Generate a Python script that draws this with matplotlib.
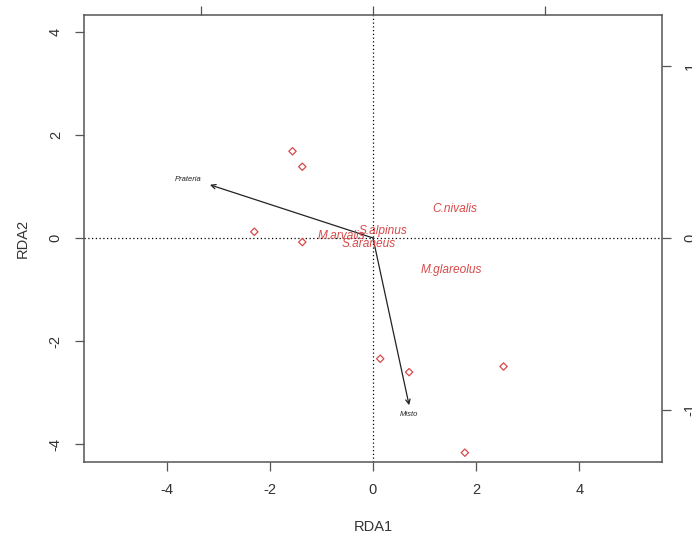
import matplotlib
matplotlib.use("Agg")
import matplotlib.pyplot as plt

plt.rcParams['font.family'] = ['Liberation Sans', 'DejaVu Sans']
plt.rcParams['axes.unicode_minus'] = False

# site scores (RDA1, RDA2)
site_x = [-1.56, -1.37, -2.30, -1.37, 0.14, 0.70, 2.53, 1.78]
site_y = [1.68, 1.38, 0.12, -0.08, -2.34, -2.60, -2.49, -4.16]

# species scores
species = ['C.nivalis', 'S.alpinus', 'M.arvalis', 'S.araneus', 'M.glareolus']
species_x = [1.59, 0.19, -0.62, -0.09, 1.52]
species_y = [0.56, 0.14, 0.03, -0.12, -0.62]

# environmental variables (biplot arrows)
env = ['Prateria', 'Misto']
env_x = [-3.16, 0.70]
env_y = [1.03, -3.24]

red = '#d84a4a'
axcol = '#555555'

fig = plt.figure(figsize=(6.92, 5.36), dpi=100)
ax = fig.add_axes([0.1218, 0.1386, 0.8348, 0.8334])

ax.set_xlim(-5.595, 5.60)
ax.set_ylim(-4.335, 4.32)

ax.axhline(0, color='black', lw=0.9, ls=(0, (1, 2)))
ax.axvline(0, color='black', lw=0.9, ls=(0, (1, 2)))

ax.scatter(site_x, site_y, marker='D', s=14, facecolors='none',
           edgecolors=red, linewidths=0.9, zorder=3)

for name, x, y in zip(species, species_x, species_y):
    ax.text(x, y, name, color=red, fontsize=8.6, style='italic',
            ha='center', va='center', zorder=4)

# arrows from the origin, label just beyond the tip
offsets = [(-16, 4), (0, -7)]
for name, x, y, off in zip(env, env_x, env_y, offsets):
    ax.annotate('', xy=(x, y), xytext=(0, 0),
                arrowprops=dict(arrowstyle='->', color='#222222', lw=0.9,
                                mutation_scale=8, shrinkA=0, shrinkB=0))
    ax.annotate(name, xy=(x, y), xytext=off, textcoords='offset points',
                ha='center', va='center', fontsize=5.5, style='italic',
                color='#222222')

ax.set_xticks([-4, -2, 0, 2, 4])
ax.set_yticks([-4, -2, 0, 2, 4])
ax.tick_params(direction='out', length=6.5, width=0.9, color=axcol,
               labelsize=10.5, labelcolor='#333333', pad=9)
for lab in ax.get_yticklabels():
    lab.set_rotation(90)
    lab.set_va('center')

ax.set_xlabel('RDA1', fontsize=10.5, color='#333333')
ax.set_ylabel('RDA2', fontsize=10.5, color='#333333')
ax.xaxis.set_label_coords(0.5, -0.1455)
ax.xaxis.label.set_va('center')
ax.yaxis.set_label_coords(-0.1066, 0.5)
ax.yaxis.label.set_va('center')

for sp in ax.spines.values():
    sp.set_color(axcol)
    sp.set_linewidth(1.1)

# species scale on top and right
k = 3.33
axr = ax.twinx()
axr.set_ylim(-4.335 / k, 4.32 / k)
axr.set_yticks([-1, 0, 1])
axr.tick_params(direction='out', length=6.5, width=0.9, color=axcol,
                labelsize=10.5, labelcolor='#333333', pad=9)
for lab in axr.get_yticklabels():
    lab.set_rotation(90)
    lab.set_va('center')

axt = ax.twiny()
axt.set_xlim(-5.595 / k, 5.60 / k)
axt.set_xticks([-1, 0, 1])
axt.tick_params(direction='out', length=6.5, width=0.9, color=axcol,
                labelsize=10.5, labelcolor='#333333', pad=9)

for a in (axr, axt):
    for sp in a.spines.values():
        sp.set_visible(False)

fig.savefig('out.png', dpi=100)
